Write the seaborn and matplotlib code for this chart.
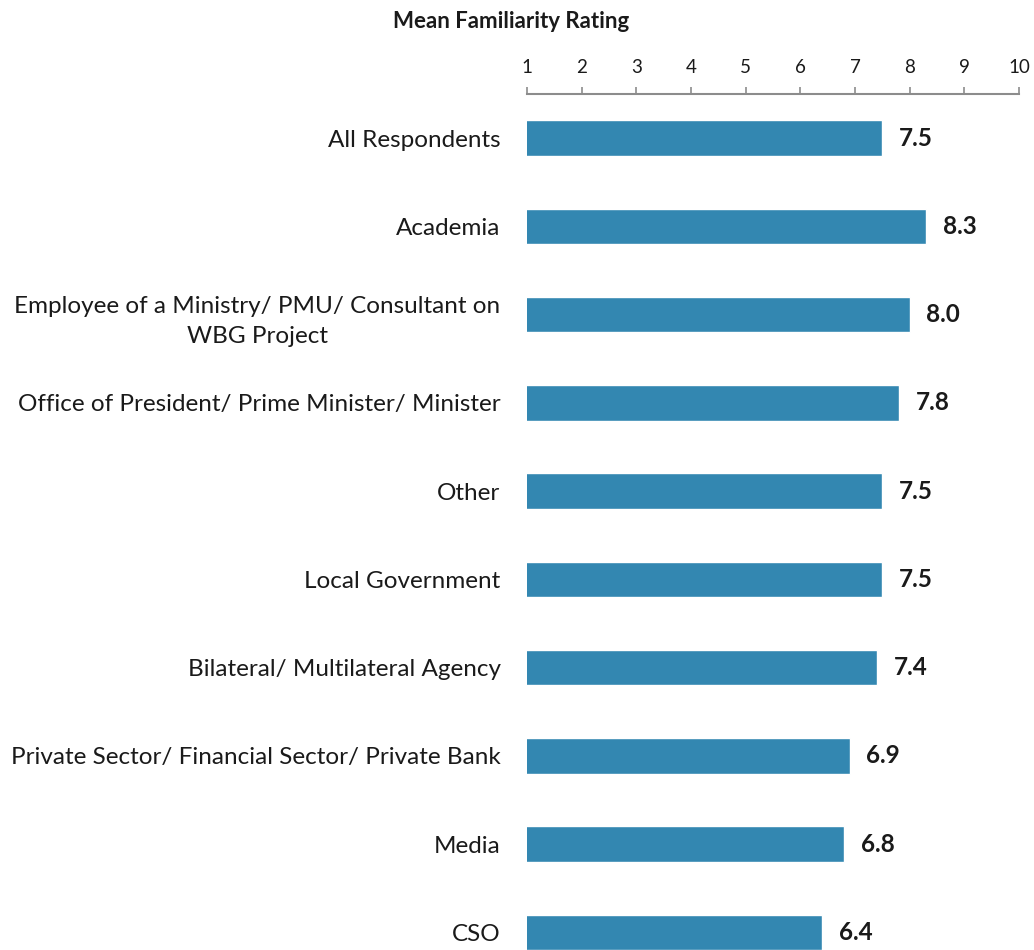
import matplotlib
matplotlib.use("Agg")
import matplotlib.pyplot as plt
import seaborn as sns
import pandas as pd

categories = [
    "All Respondents",
    "Academia",
    "Employee of a Ministry/ PMU/ Consultant on\nWBG Project",
    "Office of President/ Prime Minister/ Minister",
    "Other",
    "Local Government",
    "Bilateral/ Multilateral Agency",
    "Private Sector/ Financial Sector/ Private Bank",
    "Media",
    "CSO",
]
values = [7.5, 8.3, 8.0, 7.8, 7.5, 7.5, 7.4, 6.9, 6.8, 6.4]
xticks = [1, 2, 3, 4, 5, 6, 7, 8, 9, 10]

sns.set_theme(style="white")
plt.rcParams["font.family"] = ["Lato", "DejaVu Sans"]

df = pd.DataFrame({"cat": categories, "val": values})

fig = plt.figure(figsize=(10.34, 9.5), dpi=100)
ax = fig.add_axes([527 / 1034, 0, (1019 - 527) / 1034, (950 - 94) / 950])

sns.barplot(data=df, x="val", y="cat", orient="h", color="#3387b1",
            saturation=1, width=0.4, ax=ax)

ax.set_xlim(1, 10)
ax.set_ylim(9.2, -0.5)
ax.set_xticks(xticks)
ax.xaxis.tick_top()
ax.tick_params(axis="x", direction="out", length=5, width=1.2, color="#8c8c8c",
               labelsize=13.5, pad=8, labelcolor="#1a1a1a")
ax.tick_params(axis="y", length=0, pad=19, labelsize=17.5, labelcolor="#1a1a1a")
for lbl in ax.get_yticklabels():
    lbl.set_multialignment("center")
    lbl.set_linespacing(1.55)

for s in ["left", "right", "bottom"]:
    ax.spines[s].set_visible(False)
ax.spines["top"].set_color("#8c8c8c")
ax.spines["top"].set_linewidth(1.5)
ax.set_xlabel("")
ax.set_ylabel("")

ax.bar_label(ax.containers[0], fmt="%.1f", padding=12, fontsize=17.5,
             fontweight="bold", color="#1a1a1a", clip_on=False)

fig.text(511 / 1034, 1 - 22 / 950, "Mean Familiarity Rating", ha="center",
         va="center", fontsize=16, fontweight="bold", color="#1a1a1a")

fig.savefig("out.png", dpi=100)
